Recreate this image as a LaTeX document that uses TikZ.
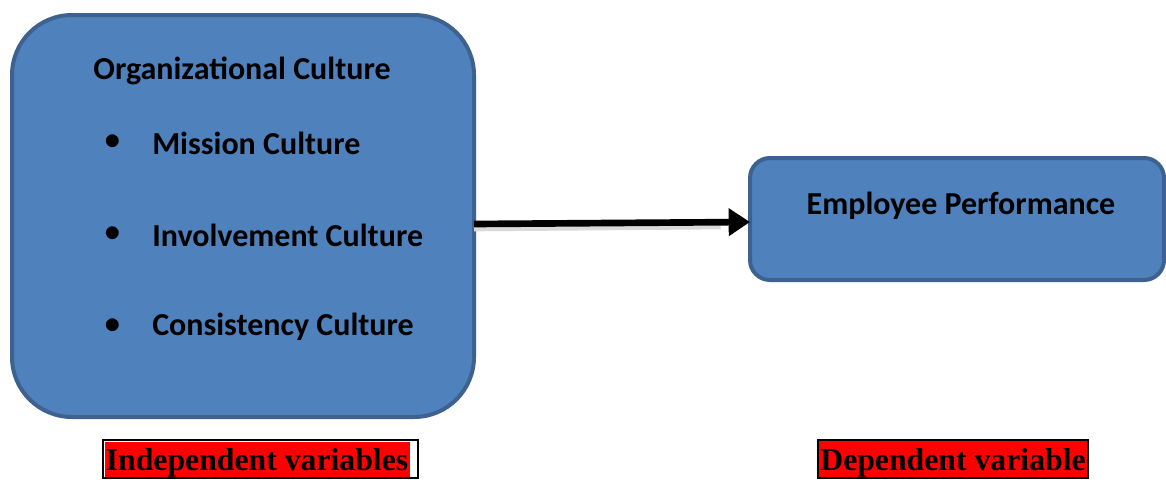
\documentclass[tikz,border=0pt]{standalone}
\usepackage{fontspec}
\setmainfont{Carlito}
\newfontfamily\timesfont{Liberation Serif}
\usetikzlibrary{arrows.meta}

\definecolor{boxfill}{RGB}{79,129,189}
\definecolor{boxline}{RGB}{62,98,144}

\tikzset{
  varbox/.style={draw=boxline, line width=3pt, fill=boxfill},
  itemtext/.style={anchor=west, inner sep=0.75pt, font=\fontsize{24}{28}\selectfont\bfseries},
  tagtext/.style={inner sep=0.75pt, font=\timesfont\fontsize{23.8}{26}\selectfont\bfseries, text=black}
}

\begin{document}
\begin{tikzpicture}[x=0.75pt,y=0.75pt,yscale=-1,xscale=1]
	\useasboundingbox (0,0) rectangle (1166,479);
	
	%Rounded Rect, independent
	\draw [varbox, rounded corners=45pt] (12,15) rectangle (474,417);
	\coordinate (indep) at (474,224);
	%Rounded Rect, dependent
	\draw [varbox, rounded corners=15pt] (750,158) rectangle (1164,280);
	\coordinate (dep) at (750,222);
	
	%Arrow shadow
	\draw [color=black!15, line width=4pt] ([yshift=3.5]indep) -- ([xshift=-22,yshift=3.5]dep);
	%Arrow
	\draw [line width=5pt, -{Triangle[length=16pt,width=20pt]}] (indep) -- (dep);
	
	% Text Node
	\draw (242,71) node [itemtext, anchor=center] (title) {Organizational Culture};
	% Text Node
	\draw (113,142) node [inner sep=0pt] (b1) {\fontsize{24}{28}\selectfont$\bullet$};
	\draw (151,143) node [itemtext] (t1) {Mission Culture};
	% Text Node
	\draw (113,234) node [inner sep=0pt] (b2) {\fontsize{24}{28}\selectfont$\bullet$};
	\draw (151,235) node [itemtext] (t2) {Involvement Culture};
	% Text Node
	\draw (113,326) node [inner sep=0pt] (b3) {\fontsize{24}{28}\selectfont$\bullet$};
	\draw (151,327) node [itemtext] (t3) {Consistency Culture};
	% Text Node
	\draw (961,206) node [itemtext, anchor=center] (perf) {Employee Performance};
	
	%Tag, independent
	\draw [line width=1.5pt, fill=white] (103,440) rectangle (418,478);
	\fill [red] (105,442) rectangle (410,477);
	\draw (257,463) node [tagtext] (indeptag) {Independent variables};
	%Tag, dependent
	\draw [line width=1.5pt, fill=red] (818,440) rectangle (1088,478);
	\draw (953,463) node [tagtext] (deptag) {Dependent variable};
	
\end{tikzpicture}
\end{document}
